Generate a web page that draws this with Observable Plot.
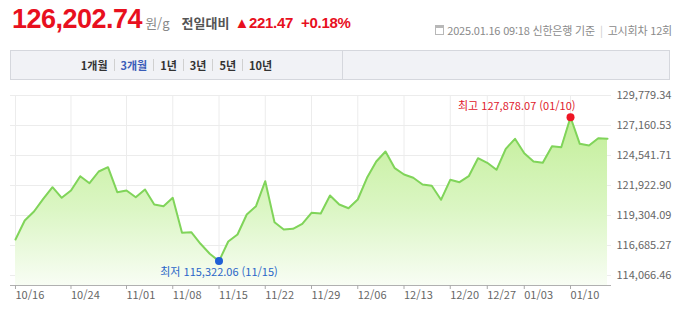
<!DOCTYPE html>
<html lang="ko">
<head>
<meta charset="utf-8">
<script src="https://cdn.jsdelivr.net/npm/d3@7"></script>
<script src="https://cdn.jsdelivr.net/npm/@observablehq/plot@0.6"></script>
<style>
  html, body { margin: 0; padding: 0; background: #fff; }
  body { width: 680px; height: 313px; position: relative; overflow: hidden;
         font-family: "Noto Sans CJK KR", "Noto Sans", sans-serif; }
  #price { position: absolute; left: 12px; top: 4px; display: flex; align-items: baseline; white-space: nowrap; }
  #price .big { font-family: "Liberation Sans", Arial, sans-serif; font-weight: bold; font-size: 27px; color: #e8101e; letter-spacing: -0.5px; }
  #price .unit { font-size: 13px; color: #888; margin-left: 3px; }
  #price .lbl { font-size: 13px; color: #555; font-weight: bold; margin-left: 12px; }
  #price .chg { font-family: "Liberation Sans", Arial, sans-serif; font-size: 15px; color: #e8101e; font-weight: bold; margin-left: 5px; letter-spacing: -0.3px; }
  #price .pct { font-family: "Liberation Sans", Arial, sans-serif; font-size: 15px; color: #e8101e; font-weight: bold; margin-left: 8px; letter-spacing: -0.3px; }
  #info { position: absolute; right: 8px; top: 22px; font-size: 11px; color: #8a8a8a; white-space: nowrap; display: flex; align-items: center; letter-spacing: -0.2px; }
  #info .ico { display: inline-block; width: 9px; height: 10px; border: 1px solid #b8b8b8; margin-right: 3px; box-sizing: border-box; background: linear-gradient(#b8b8b8 0 2px, transparent 2px); }
  #info .sep { color: #ccc; margin: 0 5px; }
  #tabs { position: absolute; left: 10px; top: 50px; width: 660px; height: 30px; box-sizing: border-box;
          background: #f1f2f6; border: 1px solid #d5d7dd; }
  #tabs .div { position: absolute; left: 331px; top: 0; bottom: 0; width: 1px; background: #d5d7dd; }
  #tabs .btns { position: absolute; left: 0; width: 331px; top: 0; height: 28px; display: flex; justify-content: center; align-items: center;
                font-size: 11px; font-weight: bold; color: #333; }
  #tabs .btns span.s { display: inline-block; width: 1px; height: 12px; background: #d0d0d0; margin: 0 6px; }
  #tabs .btns .on { color: #3a5cb8; }
  #chart { position: absolute; left: 0; top: 85px; }
</style>
</head>
<body>
<div id="price"><span class="big">126,202.74</span><span class="unit">원/g</span><span class="lbl">전일대비</span><span class="chg">▲221.47</span><span class="pct">+0.18%</span></div>
<div id="info"><span class="ico"></span><span>2025.01.16 09:18 신한은행 기준</span><span class="sep">|</span><span>고시회차 12회</span></div>
<div id="tabs"><div class="btns"><span>1개월</span><span class="s"></span><span class="on">3개월</span><span class="s"></span><span>1년</span><span class="s"></span><span>3년</span><span class="s"></span><span>5년</span><span class="s"></span><span>10년</span></div><div class="div"></div></div>
<div id="chart"></div>
<script>
const dates = ["10/16","10/17","10/18","10/21","10/22","10/23","10/24","10/25","10/28","10/29","10/30","10/31",
  "11/01","11/04","11/05","11/06","11/07","11/08","11/11","11/12","11/13","11/14","11/15","11/18","11/19","11/20","11/21","11/22","11/25","11/26","11/27","11/28","11/29",
  "12/02","12/03","12/04","12/05","12/06","12/09","12/10","12/11","12/12","12/13","12/16","12/17","12/18","12/19","12/20","12/23","12/24","12/26","12/27","12/30","12/31",
  "01/02","01/03","01/06","01/07","01/08","01/09","01/10","01/13","01/14","01/15","01/16"];
const prices = [117209,118868,119653,120762,121774,120849,121486,122735,122124,123145,
  123520,121338,121486,120901,121574,120264,120116,120849,117794,117846,
  116834,115961,115322.06,117034,117646,119391,120116,122298,118719,118082,
  118143,118579,119540,119479,121050,120264,119941,120701,122595,124018,
  124891,123433,122883,122595,122010,121896,120674,122420,122211,122735,
  124306,123904,123293,125126,125999,124742,124018,123904,125353,125266,
  127878.07,125563,125415,126052,125999];
const xTickLabels = ["10/16","10/24","11/01","11/08","11/15","11/22","11/29","12/06","12/13","12/20","12/27","01/03","01/10"];
const yTicks = [114066.46,116685.27,119304.09,121922.90,124541.71,127160.53,129779.34];
const maxLabel = "최고 127,878.07 (01/10)";
const minLabel = "최저 115,322.06 (11/15)";

const data = dates.map((d, i) => ({i, d, v: prices[i]}));
const tickIdx = xTickLabels.map(l => dates.indexOf(l));
const yStep = yTicks[1] - yTicks[0];
const yMin = yTicks[0] - yStep / 3;
const yMax = yTicks[yTicks.length - 1];
const maxPt = data.reduce((a, b) => b.v > a.v ? b : a);
const minPt = data.reduce((a, b) => b.v < a.v ? b : a);
const fmt = d3.format(",.2f");

function gradientDefs() {
  const ns = "http://www.w3.org/2000/svg";
  const defs = document.createElementNS(ns, "defs");
  const g = document.createElementNS(ns, "linearGradient");
  g.setAttribute("id", "areaGrad");
  g.setAttribute("x1", "0"); g.setAttribute("y1", "0");
  g.setAttribute("x2", "0"); g.setAttribute("y2", "1");
  [["0%", "#c2ee97"], ["55%", "#dbf6c4"], ["100%", "#f8fdf4"]].forEach(([o, c]) => {
    const s = document.createElementNS(ns, "stop");
    s.setAttribute("offset", o); s.setAttribute("stop-color", c);
    g.appendChild(s);
  });
  defs.appendChild(g);
  return defs;
}

const chart = Plot.plot({
  width: 680, height: 228,
  marginTop: 10, marginBottom: 28, marginLeft: 10, marginRight: 69,
  x: {type: "linear", domain: [-0.54, 64.43], label: null},
  y: {domain: [yMin, yMax], label: null},
  style: {fontFamily: '"Noto Sans CJK KR", "Noto Sans", sans-serif', fontSize: "11px", color: "#666", background: "transparent", overflow: "visible"},
  marks: [
    gradientDefs,
    Plot.ruleX(tickIdx, {y1: yMin, y2: yMax, stroke: "#ececec"}),
    Plot.ruleY(yTicks, {stroke: "#ececec"}),
    Plot.areaY(data, {x: "i", y1: yMin, y2: "v", fill: "url(#areaGrad)"}),
    Plot.lineY(data, {x: "i", y: "v", stroke: "#80d45a", strokeWidth: 2}),
    Plot.ruleY([yMin], {stroke: "#b0b0b0"}),
    Plot.axisX({ticks: tickIdx, tickFormat: i => dates[i], tickSize: 4, tickPadding: 2, textAnchor: "start", stroke: "#aaa", fill: "#666", label: null}),
    Plot.axisY({anchor: "right", ticks: yTicks, tickFormat: fmt, tickSize: 0, tickPadding: 5, textAnchor: "start", fill: "#666", label: null}),
    Plot.dot([maxPt], {x: "i", y: "v", r: 4, fill: "#ee1524"}),
    Plot.text([maxPt], {x: "i", y: "v", text: () => maxLabel, textAnchor: "end", dx: 5, dy: -11, fill: "#e0202c", fontSize: 11}),
    Plot.dot([minPt], {x: "i", y: "v", r: 4, fill: "#1f60d6"}),
    Plot.text([minPt], {x: "i", y: "v", text: () => minLabel, textAnchor: "middle", dy: 11, fill: "#2a66c8", fontSize: 11})
  ]
});
document.getElementById("chart").appendChild(chart);
</script>
</body>
</html>
